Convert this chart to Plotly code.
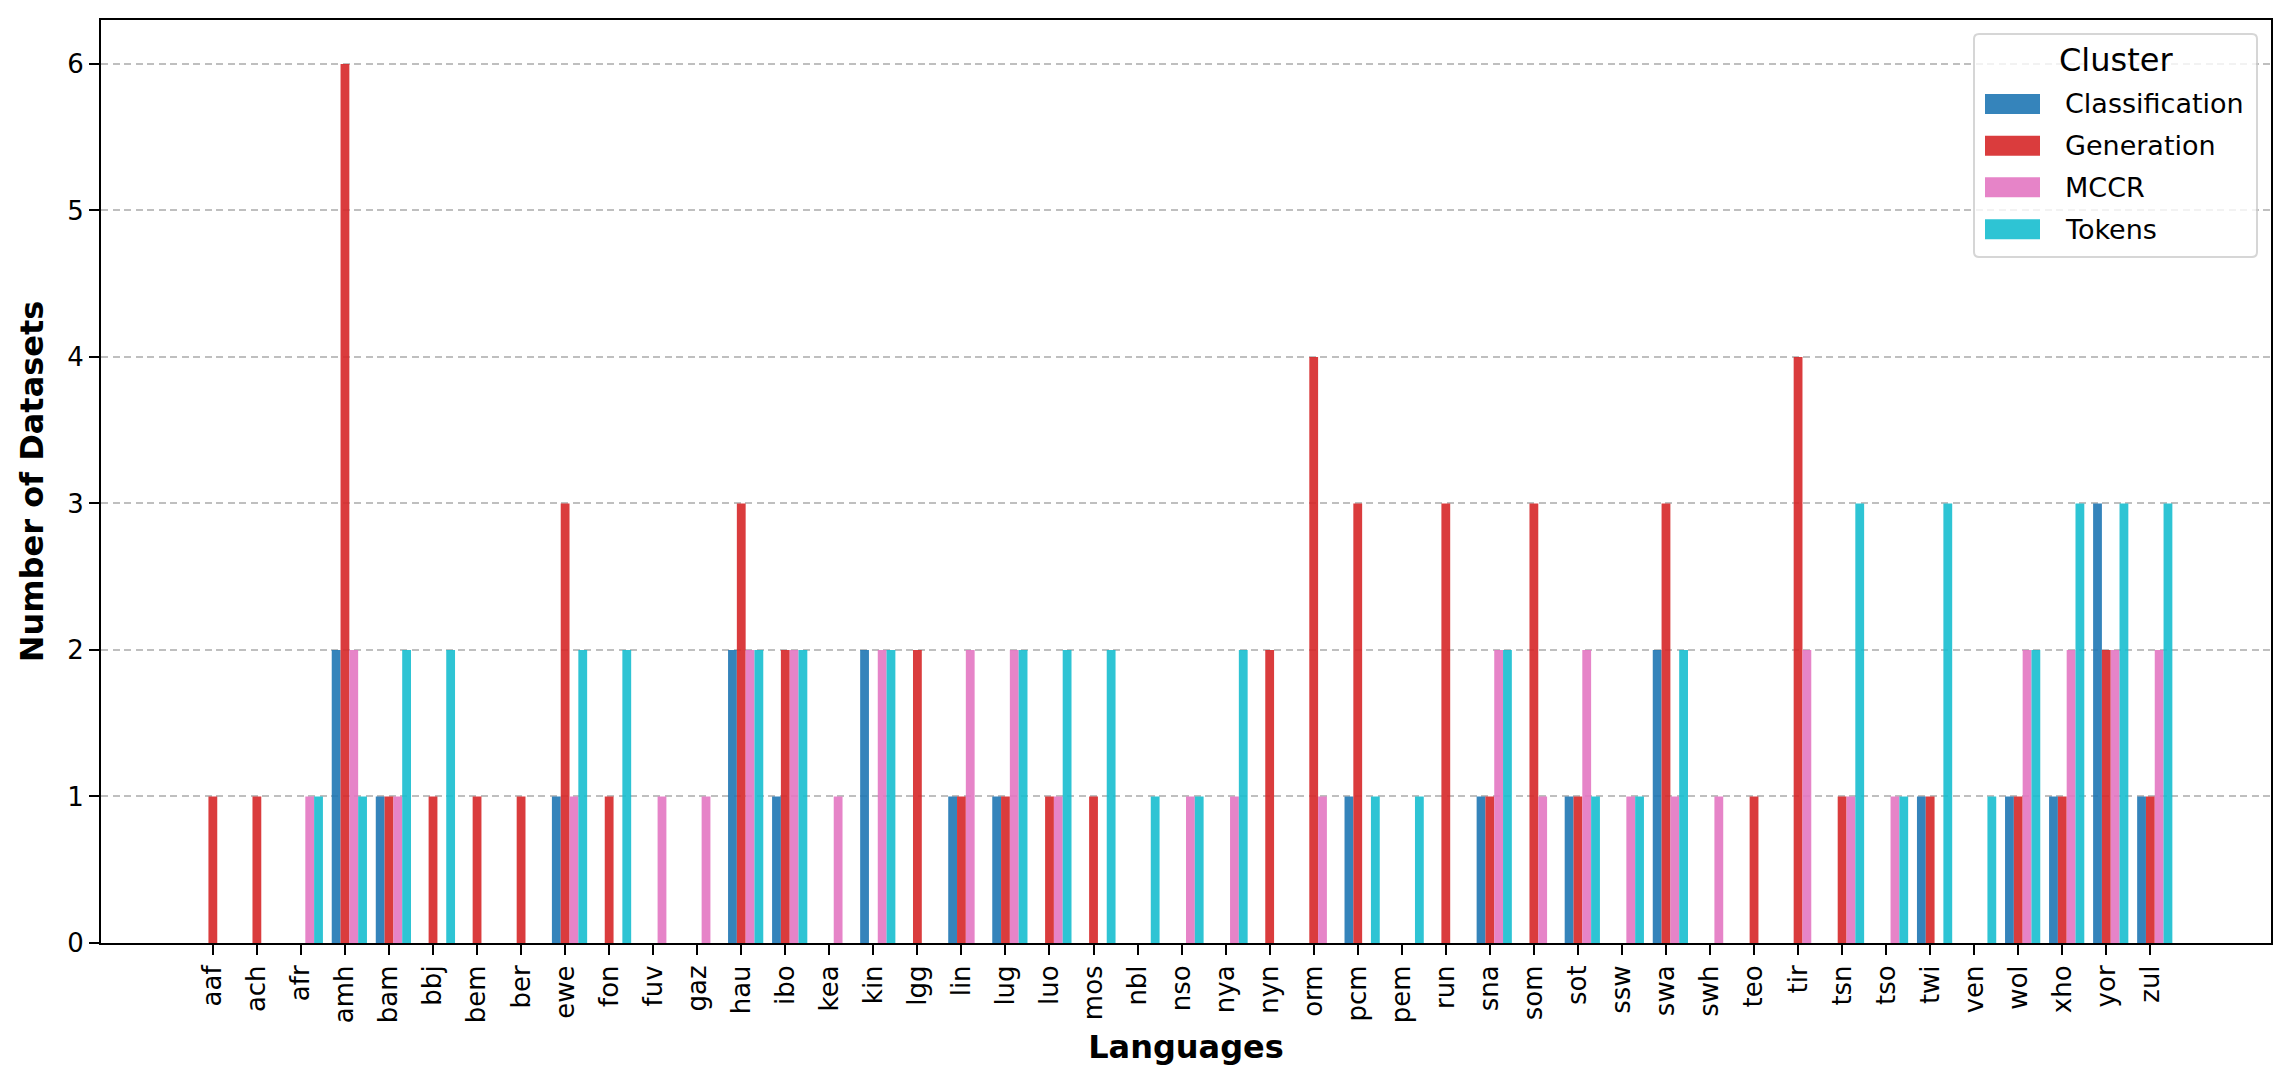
import plotly.graph_objects as go

languages = ["aaf", "ach", "afr", "amh", "bam", "bbj", "bem", "ber", "ewe", "fon",
             "fuv", "gaz", "hau", "ibo", "kea", "kin", "lgg", "lin", "lug", "luo",
             "mos", "nbl", "nso", "nya", "nyn", "orm", "pcm", "pem", "run", "sna",
             "som", "sot", "ssw", "swa", "swh", "teo", "tir", "tsn", "tso", "twi",
             "ven", "wol", "xho", "yor", "zul"]

classification = [0, 0, 0, 2, 1, 0, 0, 0, 1, 0,
                  0, 0, 2, 1, 0, 2, 0, 1, 1, 0,
                  0, 0, 0, 0, 0, 0, 1, 0, 0, 1,
                  0, 1, 0, 2, 0, 0, 0, 0, 0, 1,
                  0, 1, 1, 3, 1]
generation = [1, 1, 0, 6, 1, 1, 1, 1, 3, 1,
              0, 0, 3, 2, 0, 0, 2, 1, 1, 1,
              1, 0, 0, 0, 2, 4, 3, 0, 3, 1,
              3, 1, 0, 3, 0, 1, 4, 1, 0, 1,
              0, 1, 1, 2, 1]
mccr = [0, 0, 1, 2, 1, 0, 0, 0, 1, 0,
        1, 1, 2, 2, 1, 2, 0, 2, 2, 1,
        0, 0, 1, 1, 0, 1, 0, 0, 0, 2,
        1, 2, 1, 1, 1, 0, 2, 1, 1, 0,
        0, 2, 2, 2, 2]
tokens = [0, 0, 1, 1, 2, 2, 0, 0, 2, 2,
          0, 0, 2, 2, 0, 2, 0, 0, 2, 2,
          2, 1, 1, 2, 0, 0, 1, 1, 0, 2,
          0, 1, 1, 2, 0, 0, 0, 3, 1, 3,
          1, 2, 3, 3, 3]

series_names = ["Classification", "Generation", "MCCR", "Tokens"]
series_values = [classification, generation, mccr, tokens]
colors = ["#1f77b4", "#d62728", "#e377c2", "#17becf"]
y_ticks = [0, 1, 2, 3, 4, 5, 6]

FONT = "DejaVu Sans"
W, H = 2291, 1089
L, R, T, B = 101, 2271, 20, 943.3

bar_w = 0.2
offsets = [-0.3, -0.1, 0.1, 0.3]

fig = go.Figure()
for name, vals, col, off in zip(series_names, series_values, colors, offsets):
    fig.add_trace(go.Bar(
        x=languages, y=vals, name=name,
        width=bar_w, offset=off,
        marker=dict(color=col, opacity=0.9, line=dict(width=0)),
        showlegend=False,
    ))

n = len(languages)
xmin = -0.3 - 0.05 * (n - 1 + 0.8)
xmax = n - 1 + 0.5 + 0.05 * (n - 1 + 0.8)

fig.update_layout(
    width=W, height=H,
    margin=dict(l=L, r=W - R, t=T, b=H - B, autoexpand=False),
    barmode="overlay",
    plot_bgcolor="white", paper_bgcolor="white",
    font=dict(family=FONT, color="black", size=27),
)

fig.update_xaxes(
    type="category", range=[xmin, xmax],
    showline=True, linecolor="black", linewidth=2, mirror=True,
    ticks="outside", ticklen=10, tickwidth=2, tickcolor="black",
    tickangle=-90, tickfont=dict(family=FONT, size=26),
    showgrid=False, zeroline=False, automargin=False,
    title=dict(text="<b>Languages</b>", font=dict(family=FONT, size=32), standoff=13),
)
fig.update_yaxes(
    range=[0, 6.3], tickvals=y_ticks,
    showline=True, linecolor="black", linewidth=2, mirror=True,
    ticks="outside", ticklen=10, tickwidth=2, tickcolor="black",
    tickfont=dict(family=FONT, size=26),
    showgrid=True, gridcolor="#bfbfbf", gridwidth=1.5, griddash="7px,4.5px",
    zeroline=False, automargin=False,
    title=dict(text="<b>Number of Datasets</b>", font=dict(family=FONT, size=32), standoff=14),
)


def px2x(px):
    return (px - L) / (R - L)


def py2y(py):
    return (B - py) / (B - T)


# legend box (rounded)
x0, x1, y0, y1, r = 1974, 2257, 34, 257, 5
path = (f"M {px2x(x0 + r)},{py2y(y0)} L {px2x(x1 - r)},{py2y(y0)} "
        f"Q {px2x(x1)},{py2y(y0)} {px2x(x1)},{py2y(y0 + r)} "
        f"L {px2x(x1)},{py2y(y1 - r)} Q {px2x(x1)},{py2y(y1)} {px2x(x1 - r)},{py2y(y1)} "
        f"L {px2x(x0 + r)},{py2y(y1)} Q {px2x(x0)},{py2y(y1)} {px2x(x0)},{py2y(y1 - r)} "
        f"L {px2x(x0)},{py2y(y0 + r)} Q {px2x(x0)},{py2y(y0)} {px2x(x0 + r)},{py2y(y0)} Z")
fig.add_shape(type="path", path=path, xref="paper", yref="paper",
              fillcolor="white", line=dict(color="#cccccc", width=2), opacity=0.8)

fig.add_annotation(text="Cluster", x=px2x(2115.5), y=py2y(60), xref="paper", yref="paper",
                   showarrow=False, xanchor="center", yanchor="middle",
                   font=dict(family=FONT, size=32, color="black"))
entry_y = [104, 145.7, 187.3, 229.3]
for name, col, yc in zip(series_names, colors, entry_y):
    fig.add_shape(type="rect", xref="paper", yref="paper",
                  x0=px2x(1985), x1=px2x(2040), y0=py2y(yc - 10), y1=py2y(yc + 10),
                  fillcolor=col, opacity=0.9, line=dict(width=0))
    fig.add_annotation(text=name, x=px2x(2063), y=py2y(yc), xref="paper", yref="paper",
                       showarrow=False, xanchor="left", yanchor="middle",
                       font=dict(family=FONT, size=27, color="black"))

fig.write_html("out.html",
               config={"displayModeBar": False},
               post_script="document.body.style.margin='0';document.body.style.overflow='hidden';")
